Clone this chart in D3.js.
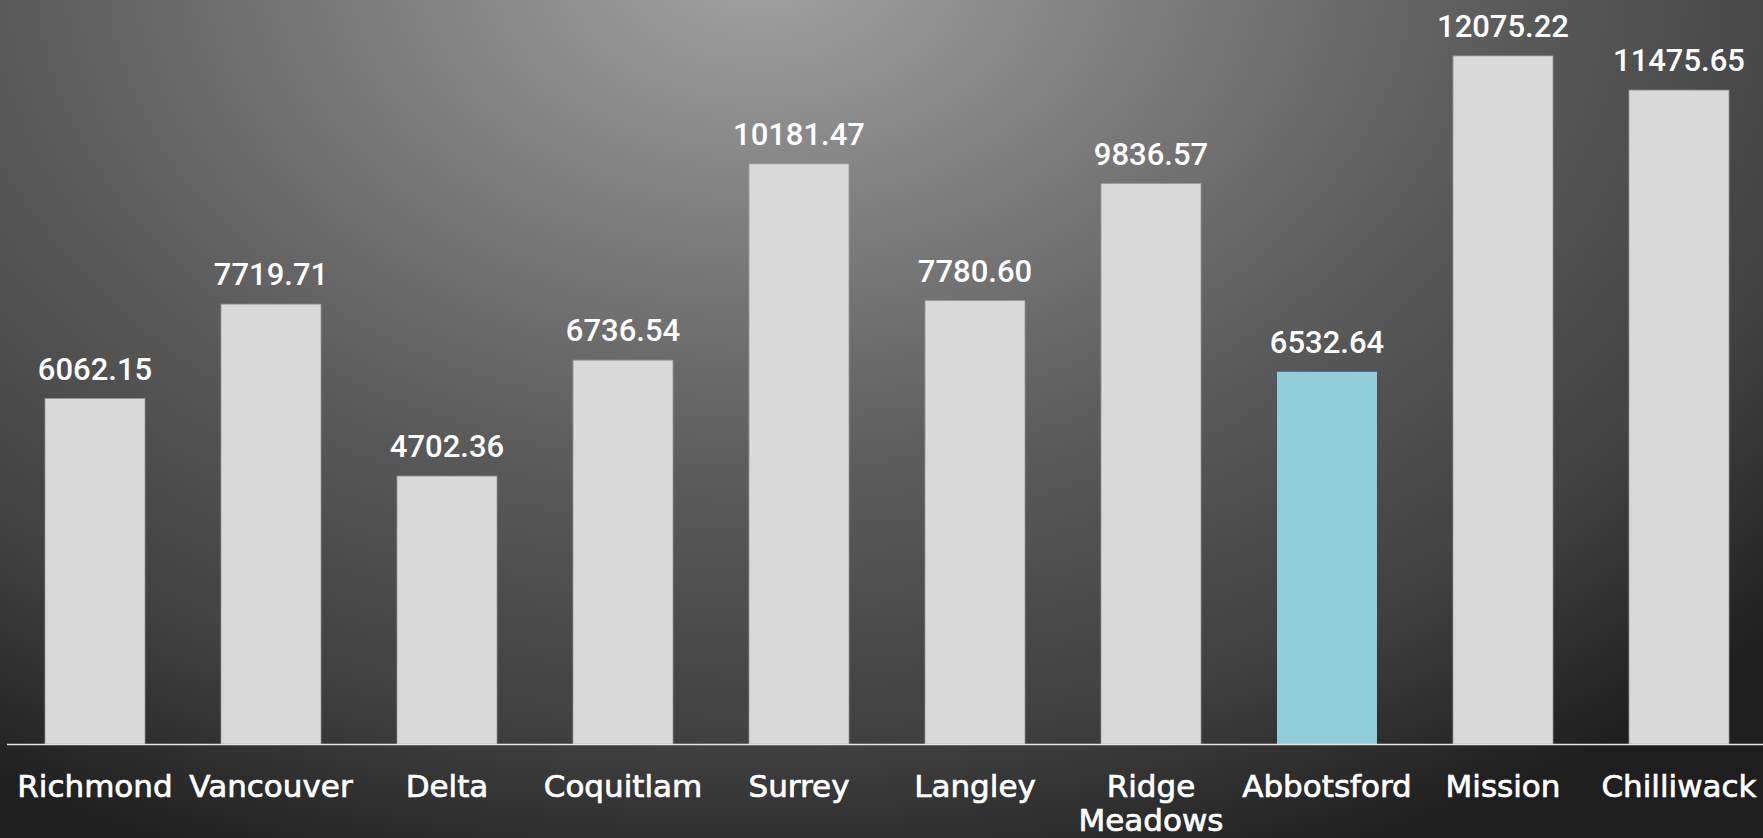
<!DOCTYPE html>
<html>
<head>
<meta charset="utf-8">
<script src="https://cdn.jsdelivr.net/npm/d3@7"></script>
<style>
  html, body { margin: 0; padding: 0; background: #222; overflow: hidden; }
</style>
</head>
<body>
<div id="chart"></div>
<script>
const categories = ["Richmond", "Vancouver", "Delta", "Coquitlam", "Surrey",
  "Langley", "Ridge Meadows", "Abbotsford", "Mission", "Chilliwack"];
const values = [6062.15, 7719.71, 4702.36, 6736.54, 10181.47,
  7780.60, 9836.57, 6532.64, 12075.22, 11475.65];
const highlighted = ["Abbotsford"];

function drawBarChart(container, width, height) {
  d3.select(container).selectAll("*").remove();
  const svg = d3
    .select(container)
    .append("svg")
    .attr("width", width)
    .attr("height", height);

  // background glow
  const defs = svg.append("defs");
  const grad = defs
    .append("radialGradient")
    .attr("id", "bg")
    .attr("gradientUnits", "userSpaceOnUse")
    .attr("cx", 760)
    .attr("cy", -40)
    .attr("r", 1400)
    .attr("gradientTransform", "translate(760,-40) scale(1,0.7) translate(-760,40)");
  grad.append("stop").attr("offset", 0).attr("stop-color", "#a3a3a3");
  grad.append("stop").attr("offset", 0.54).attr("stop-color", "#5a5a5a");
  grad.append("stop").attr("offset", 0.8).attr("stop-color", "#404040");
  grad.append("stop").attr("offset", 1).attr("stop-color", "#1f1f1f");

  svg
    .append("rect")
    .attr("width", width)
    .attr("height", height)
    .attr("fill", "url(#bg)");

  const baseline = 744;

  let x = d3
    .scaleBand()
    .domain(categories)
    .range([7, 1767])
    .paddingInner(0.432)
    .paddingOuter(0.216);

  let y = d3.scaleLinear().domain([0, 13057]).range([baseline, 0]);

  //draw bars
  svg
    .selectAll("rect.bar")
    .data(categories)
    .join("rect")
    .attr("class", "bar")
    .attr("x", (d) => x(d))
    .attr("y", (d, i) => y(values[i]))
    .attr("width", x.bandwidth())
    .attr("height", (d, i) => baseline - y(values[i]))
    .attr("fill", (d) => (highlighted.includes(d) ? "#92cddc" : "#d9d9d9"))
    .attr("stroke", (d) => (highlighted.includes(d) ? "none" : "#9a9a9a"))
    .attr("stroke-width", 0.8);

  //draw value labels
  svg
    .selectAll("text.value")
    .data(categories)
    .join("text")
    .attr("class", "value")
    .attr("x", (d) => x(d) + x.bandwidth() / 2)
    .attr("y", (d, i) => y(values[i]) - 19)
    .attr("text-anchor", "middle")
    .attr("fill", "#ffffff")
    .style("font-family", "Roboto, sans-serif")
    .style("font-weight", 500)
    .style("font-size", "31px")
    .text((d, i) => values[i].toFixed(2));

  //draw axis line
  svg
    .append("line")
    .attr("x1", 7)
    .attr("x2", width)
    .attr("y1", baseline + 0.5)
    .attr("y2", baseline + 0.5)
    .attr("stroke", "#e6e6e6")
    .attr("stroke-width", 1.5);

  //draw category labels
  const labels = svg
    .selectAll("text.cat")
    .data(categories)
    .join("text")
    .attr("class", "cat")
    .attr("x", (d) => x(d) + x.bandwidth() / 2)
    .attr("y", 797)
    .attr("text-anchor", "middle")
    .attr("fill", "#ffffff")
    .attr("stroke", "#ffffff")
    .attr("stroke-width", 0.7)
    .style("font-family", "'DejaVu Sans', sans-serif")
    .style("font-size", "31px");

  labels.each(function (d) {
    const words = d === "Ridge Meadows" ? d.split(" ") : [d];
    const t = d3.select(this);
    words.forEach((w, k) => {
      t.append("tspan")
        .attr("x", x(d) + x.bandwidth() / 2)
        .attr("dy", k === 0 ? 0 : 34)
        .text(w);
    });
  });

  return svg.node();
}

drawBarChart("#chart", 1763, 838);
</script>
</body>
</html>
